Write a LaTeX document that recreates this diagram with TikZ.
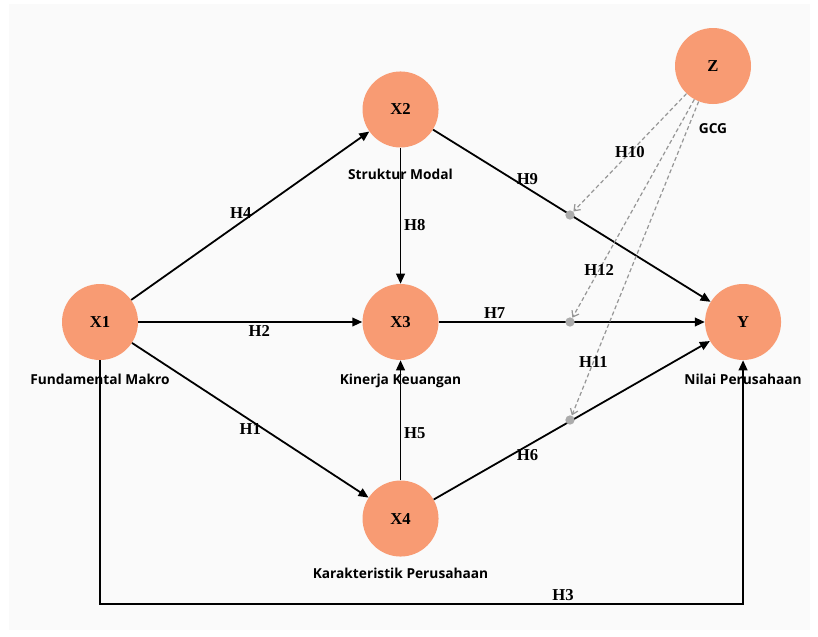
\documentclass[tikz,border=0pt]{standalone}
\usepackage{fontspec}
\setmainfont{Liberation Serif}
\newfontfamily\capfont{Open Sans}
\usepackage{tikz}
\usetikzlibrary{arrows.meta, positioning}
\definecolor{varorange}{RGB}{248,155,115}
\definecolor{bggray}{RGB}{250,250,250}
\definecolor{modgray}{RGB}{150,150,150}
\tikzset{
  var/.style={circle, minimum size=57pt, inner sep=0pt, fill=varorange, font=\bfseries\fontsize{12.5}{14}\selectfont},
  varlabel/.style={inner sep=1pt, font=\capfont\bfseries\fontsize{10.3}{12}\selectfont},
  hyp/.style={inner sep=2pt, text=black, font=\bfseries\fontsize{12.5}{14}\selectfont},
  arrow/.style={-{Triangle[length=7.5pt,width=6.5pt]}, line width=1.35pt},
  modarrow/.style={-{Straight Barb[length=4pt,width=6pt]}, modgray, dash pattern=on 3pt off 2pt, line width=0.9pt},
  moddot/.style={circle, fill=modgray!80, minimum size=7pt, inner sep=0pt},
}

\begin{document}
\begin{tikzpicture}[x=0.75pt, y=-0.75pt]
\useasboundingbox (0,0) rectangle (818,636);
\fill[bggray] (9,4) rectangle (810,630);
% variables
\node (x1) [var] at (100,322) {X1};
\node (x3) [var, right=168pt of x1] {X3};
\node (x2) [var, above=102pt of x3] {X2};
\node (x4) [var, below=90pt of x3] {X4};
\node (y) [var, right=199.5pt of x3] {Y};
\node (z) [var] at (713,66) {Z};
\node (c1) [varlabel, below=9pt of x1] {Fundamental Makro};
\node (c2) [varlabel, below=15pt of x2] {Struktur Modal};
\node (c3) [varlabel, below=9pt of x3] {Kinerja Keuangan};
\node (c4) [varlabel, below=7pt of x4] {Karakteristik Perusahaan};
\node (cy) [varlabel, below=9pt of y] {Nilai Perusahaan};
\node (cz) [varlabel, below=13pt of z] {GCG};
% direct paths
\draw[arrow] (x1) -- node[hyp, pos=0.46, above] {H4} (x2);
\draw[arrow] (x1) -- node[hyp, pos=0.54, below] {H2} (x3);
\draw[arrow] (x1) -- node[hyp, pos=0.5, below] {H1} (x4);
\draw[arrow] (x2) -- node[hyp, pos=0.57, right] {H8} (x3);
\draw[arrow] (x4) -- node[hyp, pos=0.39, right] {H5} (x3);
\draw[arrow] (x2) -- node[hyp, pos=0.34, above] {H9} (y);
\draw[arrow] (x3) -- node[hyp, pos=0.21, above] {H7} (y);
\draw[arrow] (x4) -- node[hyp, pos=0.34, below] {H6} (y);
\coordinate (h3) at (100,604);
\draw[arrow] (x1) -- (h3) -| node[hyp, pos=0.36, above] {H3} (y);
% moderation
\node (m1) [moddot] at (570,215) {};
\node (m2) [moddot] at (570,322) {};
\node (m3) [moddot] at (570,420) {};
\draw[modarrow] (z) -- node[hyp, pos=0.5] {H10} (m1);
\draw[modarrow] (z) -- node[hyp, pos=0.78] {H12} (m2);
\draw[modarrow] (z) -- node[hyp, pos=0.83] {H11} (m3);
\end{tikzpicture}
\end{document}
